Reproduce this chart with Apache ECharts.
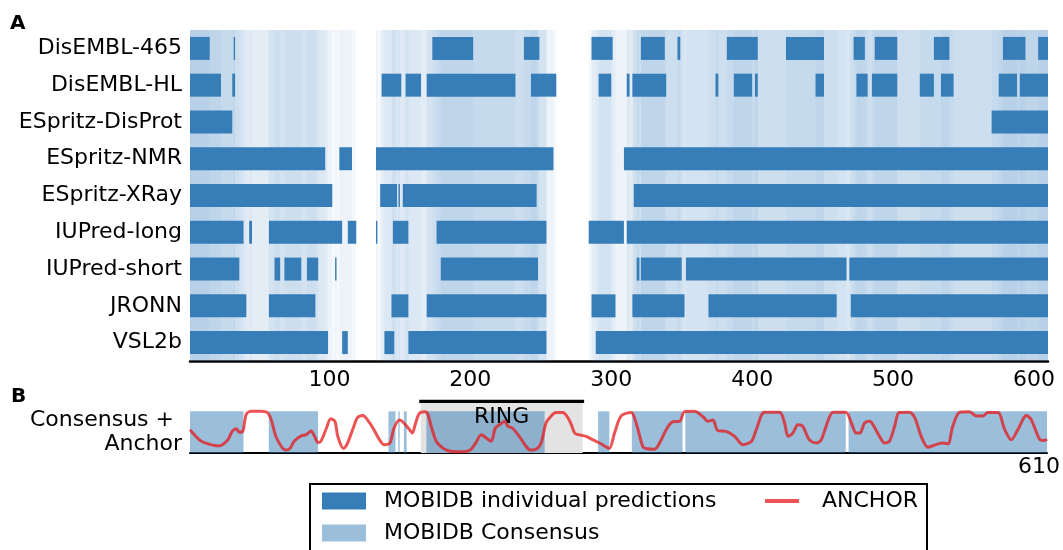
<!DOCTYPE html>
<html><head><meta charset="utf-8">
<script src="https://cdn.jsdelivr.net/npm/echarts@6/dist/echarts.min.js"></script>
<style>html,body{margin:0;padding:0;background:#fff}#c{width:1063px;height:550px}</style>
</head><body><div id="c"></div>
<script>
// ---------- data ----------
const predictors = ['DisEMBL-465','DisEMBL-HL','ESpritz-DisProt','ESpritz-NMR','ESpritz-XRay','IUPred-long','IUPred-short','JRONN','VSL2b'];
const disEMBL465 = [[1,15],[32,33],[173,202],[238,249],[286,301],[321,338],[347,349],[382,404],[424,451],[472,480],[487,503],[529,540],[578,594],[603,610]];
const disEMBLHL = [[1,23],[31,33],[137,151],[154,165],[169,232],[243,261],[291,300],[311,313],[315,339],[374,376],[387,400],[402,404],[445,451],[474,482],[485,503],[519,529],[534,543],[575,588],[590,610]];
const espritzDisProt = [[1,31],[570,610]];
const espritzNMR = [[1,97],[107,116],[133,259],[309,610]];
const espritzXRay = [[1,102],[136,148],[149,150],[152,247],[316,610]];
const iupredLong = [[1,39],[43,45],[57,109],[113,119],[133,134],[145,156],[176,254],[284,309],[311,610]];
const iupredShort = [[1,36],[61,65],[68,80],[84,92],[104,105],[179,248],[318,320],[321,350],[353,467],[469,610]];
const jronn = [[1,41],[57,90],[144,156],[169,254],[286,303],[315,352],[369,460],[470,610]];
const vsl2b = [[1,99],[109,113],[139,146],[156,254],[289,610]];
const consensus = [[1,39],[57,92],[142,147],[149,150],[153,155],[169,253],[291,299],[315,351],[353,467],[469,610]];
const ringRegion = [165, 280];
const ringLabel = 'RING';
const anchor = [[1,0.56],[4,0.44],[9,0.28],[15,0.21],[21,0.17],[24,0.20],[28,0.32],[31,0.52],[34,0.58],[36,0.50],[38.5,0.52],[41,0.93],[44.5,1.0],[51.5,1.0],[56,0.97],[58.7,0.80],[62,0.40],[66,0.15],[69,0.07],[72,0.11],[75,0.28],[80,0.41],[83.6,0.44],[87,0.53],[89.5,0.40],[92,0.25],[94,0.28],[98,0.60],[101,0.82],[104,0.76],[106,0.40],[110,0.11],[113,0.24],[117,0.60],[120,0.85],[124,0.90],[127,0.80],[131,0.60],[135.6,0.32],[139,0.20],[143,0.24],[146,0.60],[150,0.79],[153,0.72],[157,0.56],[159,0.48],[161,0.68],[164,0.95],[168,0.99],[170,0.93],[172.4,0.64],[176,0.28],[181,0.11],[185,0.05],[192,0.03],[200,0.07],[204,0.24],[208,0.44],[211.5,0.36],[215,0.28],[218,0.60],[221,0.68],[224.5,0.76],[227,0.64],[230,0.60],[235,0.40],[240,0.15],[243,0.07],[247,0.09],[250.5,0.24],[254,0.72],[257.7,0.89],[261,0.97],[266,0.97],[269.5,0.85],[272,0.68],[274.3,0.48],[277,0.44],[282.5,0.40],[287,0.32],[292,0.24],[297,0.14],[299,0.11],[302.7,0.48],[307.4,0.89],[314.5,0.97],[318,0.72],[322.8,0.15],[325,0.11],[331,0.09],[334.7,0.24],[339.4,0.56],[344,0.75],[349,0.76],[352.4,0.99],[359.5,1.0],[365.5,0.87],[369,0.76],[372.6,0.79],[376,0.54],[382,0.52],[388,0.40],[394,0.20],[400,0.28],[403.4,0.56],[409.3,0.98],[420,0.98],[423.5,0.72],[426,0.40],[429.4,0.48],[433,0.68],[436.5,0.64],[441,0.32],[446,0.24],[449.6,0.32],[453,0.64],[458,0.98],[467,0.98],[471,0.72],[474.4,0.48],[477,0.48],[480.4,0.72],[484,0.76],[486.3,0.68],[491,0.40],[494.6,0.24],[498,0.28],[501.7,0.64],[505,0.97],[512,0.98],[516,0.85],[520.6,0.40],[525.4,0.14],[531,0.20],[536,0.24],[539.6,0.22],[543,0.64],[548,0.98],[555,0.99],[559.7,0.89],[564.5,0.89],[568,0.97],[575,0.97],[580,0.56],[584.6,0.32],[589.3,0.56],[595.3,0.90],[598.8,0.80],[604.7,0.33],[608,0.30],[610,0.33]];
const xTickLabelsA = [100,200,300,400,500,600];
const xTickLabelsB = [610];
const legendNames = ['MOBIDB individual predictions','MOBIDB Consensus','ANCHOR'];

// ---------- build ----------
const predictionSets = [disEMBL465, disEMBLHL, espritzDisProt, espritzNMR, espritzXRay, iupredLong, iupredShort, jronn, vsl2b];
const barData = [];
predictionSets.forEach((segs, row) => segs.forEach(s => barData.push([s[0], s[1], row])));
const consData = consensus.map(s => [s[0], s[1]]);

const FONT = 'DejaVu Sans';
const FS = 22;
const BLUE = '#377eb8';
const CONS = 'rgba(55,126,184,0.5)';
const RED = 'rgba(228,26,28,0.75)';

function csRect(cs){ return {x:cs.x, y:cs.y, width:cs.width, height:cs.height}; }

function renderShade(params, api){
  const p0 = api.coord([api.value(0), 0]);
  const p1 = api.coord([api.value(1), 0]);
  const cs = params.coordSys;
  const shape = echarts.graphic.clipRectByRect({x:p0[0], y:cs.y, width:Math.max(p1[0]-p0[0],0.6), height:cs.height}, csRect(cs));
  return shape && {type:'rect', shape:shape, style:{fill:'rgba(55,126,184,0.045)'}};
}
function renderBar(params, api){
  const r = api.value(2);
  const p0 = api.coord([api.value(0), r]);
  const p1 = api.coord([api.value(1), r]);
  const h = api.size([0,1])[1]*0.625;
  const shape = echarts.graphic.clipRectByRect({x:p0[0], y:p0[1]-h/2, width:Math.max(p1[0]-p0[0],0.8), height:h}, csRect(params.coordSys));
  return shape && {type:'rect', shape:shape, style:{fill:BLUE}};
}
function renderCons(params, api){
  const p0 = api.coord([api.value(0), 1.0]);
  const p1 = api.coord([api.value(1), 0]);
  const shape = echarts.graphic.clipRectByRect({x:p0[0], y:p0[1], width:Math.max(p1[0]-p0[0],0.8), height:p1[1]-p0[1]}, csRect(params.coordSys));
  return shape && {type:'rect', shape:shape, style:{fill:CONS}};
}
function renderRingBack(params, api){
  const p0 = api.coord([api.value(0), 1.2]);
  const p1 = api.coord([api.value(1), 0]);
  return {type:'rect', shape:{x:p0[0], y:p0[1], width:p1[0]-p0[0], height:p1[1]-p0[1]}, style:{fill:'#e3e3e3'}};
}
function renderRingFront(params, api){
  const p0 = api.coord([api.value(0), 1.2]);
  const p1 = api.coord([api.value(1), 0]);
  const pt = api.coord([(api.value(0)+api.value(1))/2, 0.86]);
  return {type:'group', children:[
    {type:'rect', shape:{x:p0[0]-1.5, y:p0[1]-3.2, width:p1[0]-p0[0]+3, height:3.2}, style:{fill:'#000'}},
    {type:'text', style:{text:ringLabel, x:pt[0], y:pt[1], align:'center', verticalAlign:'middle', fill:'#000', font:FS+'px "'+FONT+'"'}}
  ]};
}

const chart = echarts.init(document.getElementById('c'), null, {renderer:'canvas', width:1063, height:550});
chart.setOption({
  animation:false,
  textStyle:{fontFamily:FONT},
  grid:[
    {left:190, width:858, top:30, height:331},
    {left:190, width:858, top:403, height:50}
  ],
  xAxis:[
    {gridIndex:0, type:'value', min:1, max:610, splitNumber:6,
     axisLine:{show:true, lineStyle:{color:'#000', width:2.5}}, axisTick:{show:false}, splitLine:{show:false},
     axisLabel:{color:'#000', fontSize:FS, fontFamily:FONT, margin:8, showMinLabel:true, showMaxLabel:true,
       formatter: v => xTickLabelsA.includes(v) ? String(v) : ''}},
    {gridIndex:1, type:'value', min:1, max:610, splitNumber:6,
     axisLine:{show:true, lineStyle:{color:'#000', width:2}}, axisTick:{show:false}, splitLine:{show:false},
     axisLabel:{color:'#000', fontSize:FS, fontFamily:FONT, margin:3, showMaxLabel:true,
       formatter: v => xTickLabelsB.includes(v) ? '{a|'+v+'}' : '',
       rich:{a:{fontSize:FS, fontFamily:FONT, color:'#000', padding:[0,16,0,0]}}}}
  ],
  yAxis:[
    {gridIndex:0, type:'category', data:predictors, inverse:true,
     axisLine:{show:false}, axisTick:{show:false}, splitLine:{show:false},
     axisLabel:{color:'#000', fontSize:FS, fontFamily:FONT, margin:8}},
    {gridIndex:1, type:'value', min:0, max:1.2, show:false}
  ],
  legend:[
    {data:[legendNames[0], legendNames[1]], orient:'vertical', left:322, top:489, padding:0, itemGap:8,
     itemWidth:44, itemHeight:17, icon:'rect', selectedMode:false, z:10,
     textStyle:{color:'#000', fontSize:FS, fontFamily:FONT, lineHeight:24, padding:[0,0,0,13]}},
    {data:[{name:legendNames[2], icon:'rect', itemStyle:{color:RED}}], orient:'vertical', left:765, top:489, padding:0,
     itemWidth:34, itemHeight:4, selectedMode:false, z:10,
     textStyle:{color:'#000', fontSize:FS, fontFamily:FONT, lineHeight:24, padding:[0,0,0,18]}}
  ],
  graphic:[
    {type:'rect', z:0, shape:{x:310, y:484, width:617, height:90}, style:{fill:'#fff', stroke:'#000', lineWidth:2}},
    {type:'text', x:10, y:24, style:{text:'A', font:'bold 20px "'+FONT+'"', fill:'#000', verticalAlign:'middle'}},
    {type:'text', x:11, y:397, style:{text:'B', font:'bold 20px "'+FONT+'"', fill:'#000', verticalAlign:'middle'}},
    {type:'text', x:174, y:420, style:{text:'Consensus +', font:FS+'px "'+FONT+'"', fill:'#000', align:'right', verticalAlign:'middle'}},
    {type:'text', x:182, y:444, style:{text:'Anchor', font:FS+'px "'+FONT+'"', fill:'#000', align:'right', verticalAlign:'middle'}}
  ],
  series:[
    {type:'custom', name:'shade', xAxisIndex:0, yAxisIndex:0, renderItem:renderShade, data:barData, encode:{x:[0,1]}, silent:true, z:1},
    {type:'custom', name:legendNames[0], xAxisIndex:0, yAxisIndex:0, renderItem:renderBar, data:barData, encode:{x:[0,1], y:2}, itemStyle:{color:BLUE}, silent:true, z:2},
    {type:'custom', name:'ring', xAxisIndex:1, yAxisIndex:1, renderItem:renderRingBack, data:[ringRegion], encode:{x:[0,1]}, silent:true, z:1},
    {type:'custom', name:legendNames[1], xAxisIndex:1, yAxisIndex:1, renderItem:renderCons, data:consData, encode:{x:[0,1]}, itemStyle:{color:CONS}, silent:true, z:2},
    {type:'custom', name:'ringFront', xAxisIndex:1, yAxisIndex:1, renderItem:renderRingFront, data:[ringRegion], encode:{x:[0,1]}, silent:true, clip:false, z:3},
    {type:'line', name:legendNames[2], xAxisIndex:1, yAxisIndex:1, data:anchor, showSymbol:false, symbol:'none', smooth:0.3,
     lineStyle:{color:RED, width:3}, itemStyle:{color:RED}, silent:true, z:4}
  ]
});
</script></body></html>
